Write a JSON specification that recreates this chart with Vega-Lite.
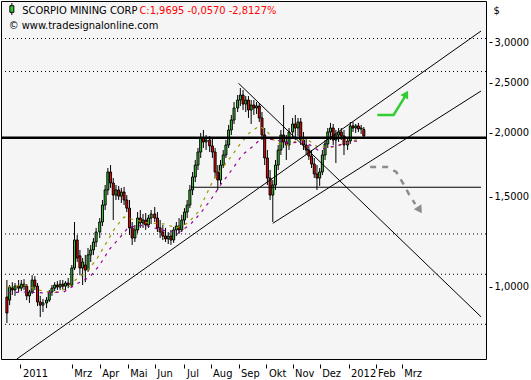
{
"$schema": "https://vega.github.io/schema/vega-lite/v6.json",
"width": 485, "height": 358,
"autosize": {"type": "none"},
"padding": {"left": 1, "top": 1, "right": 45, "bottom": 21},
"background": "white",
"config": {
  "view": {"stroke": "black", "strokeWidth": 1, "fill": "#f5f5f5"},
  "font": "DejaVu Sans Condensed",
  "axis": {"labelFont": "DejaVu Sans Condensed", "labelFontSize": 11, "labelColor": "black", "tickColor": "black", "grid": false, "domain": false}
},
"datasets": {
  "candles": [
{"d":"2010-12-19","o":0.955,"h":1.031,"l":0.850,"c":0.889},
{"d":"2010-12-22","o":0.942,"h":1.008,"l":0.921,"c":0.999},
{"d":"2010-12-25","o":0.994,"h":1.021,"l":0.964,"c":0.986},
{"d":"2010-12-28","o":0.986,"h":1.017,"l":0.960,"c":1.003},
{"d":"2011-01-01","o":1.003,"h":1.031,"l":0.977,"c":0.994},
{"d":"2011-01-04","o":0.994,"h":1.031,"l":0.981,"c":1.012},
{"d":"2011-01-07","o":1.012,"h":1.035,"l":0.986,"c":1.003},
{"d":"2011-01-10","o":1.003,"h":1.012,"l":0.942,"c":0.960},
{"d":"2011-01-13","o":0.960,"h":0.986,"l":0.930,"c":0.977},
{"d":"2011-01-16","o":0.977,"h":1.054,"l":0.968,"c":1.031},
{"d":"2011-01-19","o":1.031,"h":1.049,"l":0.986,"c":1.003},
{"d":"2011-01-22","o":1.003,"h":1.017,"l":0.917,"c":0.934},
{"d":"2011-01-25","o":0.934,"h":0.960,"l":0.873,"c":0.921},
{"d":"2011-01-28","o":0.921,"h":0.947,"l":0.893,"c":0.930},
{"d":"2011-02-01","o":0.930,"h":0.955,"l":0.909,"c":0.942},
{"d":"2011-02-04","o":0.942,"h":0.986,"l":0.934,"c":0.977},
{"d":"2011-02-07","o":0.977,"h":1.008,"l":0.960,"c":0.994},
{"d":"2011-02-10","o":0.994,"h":1.021,"l":0.981,"c":1.008},
{"d":"2011-02-13","o":1.008,"h":1.026,"l":0.986,"c":0.999},
{"d":"2011-02-16","o":0.999,"h":1.031,"l":0.986,"c":1.012},
{"d":"2011-02-19","o":1.012,"h":1.031,"l":0.990,"c":1.003},
{"d":"2011-02-22","o":1.003,"h":1.026,"l":0.986,"c":1.017},
{"d":"2011-02-25","o":1.017,"h":1.040,"l":0.994,"c":1.008},
{"d":"2011-03-01","o":1.008,"h":1.103,"l":0.999,"c":1.088},
{"d":"2011-03-04","o":1.088,"h":1.338,"l":1.078,"c":1.234},
{"d":"2011-03-07","o":1.234,"h":1.262,"l":1.118,"c":1.138},
{"d":"2011-03-10","o":1.149,"h":1.180,"l":1.054,"c":1.088},
{"d":"2011-03-13","o":1.088,"h":1.138,"l":1.008,"c":1.118},
{"d":"2011-03-16","o":1.103,"h":1.154,"l":1.021,"c":1.078},
{"d":"2011-03-19","o":1.078,"h":1.191,"l":1.069,"c":1.154},
{"d":"2011-03-22","o":1.154,"h":1.207,"l":1.118,"c":1.180},
{"d":"2011-03-25","o":1.180,"h":1.245,"l":1.154,"c":1.223},
{"d":"2011-03-28","o":1.223,"h":1.303,"l":1.196,"c":1.279},
{"d":"2011-04-01","o":1.279,"h":1.362,"l":1.245,"c":1.338},
{"d":"2011-04-04","o":1.338,"h":1.477,"l":1.314,"c":1.444},
{"d":"2011-04-07","o":1.444,"h":1.580,"l":1.412,"c":1.545},
{"d":"2011-04-10","o":1.545,"h":1.705,"l":1.510,"c":1.675},
{"d":"2011-04-13","o":1.675,"h":1.728,"l":1.559,"c":1.594},
{"d":"2011-04-16","o":1.594,"h":1.630,"l":1.350,"c":1.510},
{"d":"2011-04-19","o":1.510,"h":1.580,"l":1.477,"c":1.545},
{"d":"2011-04-22","o":1.545,"h":1.573,"l":1.477,"c":1.503},
{"d":"2011-04-25","o":1.503,"h":1.559,"l":1.457,"c":1.531},
{"d":"2011-04-28","o":1.531,"h":1.566,"l":1.444,"c":1.477},
{"d":"2011-05-01","o":1.477,"h":1.510,"l":1.399,"c":1.424},
{"d":"2011-05-04","o":1.424,"h":1.477,"l":1.262,"c":1.303},
{"d":"2011-05-07","o":1.303,"h":1.338,"l":1.207,"c":1.245},
{"d":"2011-05-10","o":1.245,"h":1.320,"l":1.223,"c":1.291},
{"d":"2011-05-13","o":1.291,"h":1.399,"l":1.274,"c":1.362},
{"d":"2011-05-16","o":1.362,"h":1.412,"l":1.303,"c":1.332},
{"d":"2011-05-19","o":1.332,"h":1.387,"l":1.303,"c":1.350},
{"d":"2011-05-22","o":1.350,"h":1.393,"l":1.291,"c":1.320},
{"d":"2011-05-25","o":1.320,"h":1.381,"l":1.303,"c":1.362},
{"d":"2011-05-28","o":1.362,"h":1.412,"l":1.326,"c":1.387},
{"d":"2011-06-01","o":1.387,"h":1.431,"l":1.338,"c":1.362},
{"d":"2011-06-04","o":1.362,"h":1.399,"l":1.279,"c":1.303},
{"d":"2011-06-07","o":1.303,"h":1.350,"l":1.245,"c":1.279},
{"d":"2011-06-10","o":1.279,"h":1.320,"l":1.234,"c":1.256},
{"d":"2011-06-13","o":1.256,"h":1.303,"l":1.223,"c":1.240},
{"d":"2011-06-16","o":1.240,"h":1.279,"l":1.212,"c":1.256},
{"d":"2011-06-19","o":1.256,"h":1.291,"l":1.207,"c":1.234},
{"d":"2011-06-22","o":1.234,"h":1.308,"l":1.218,"c":1.291},
{"d":"2011-06-25","o":1.291,"h":1.338,"l":1.256,"c":1.314},
{"d":"2011-06-28","o":1.314,"h":1.362,"l":1.268,"c":1.291},
{"d":"2011-07-01","o":1.291,"h":1.381,"l":1.279,"c":1.350},
{"d":"2011-07-04","o":1.350,"h":1.424,"l":1.320,"c":1.399},
{"d":"2011-07-07","o":1.399,"h":1.477,"l":1.362,"c":1.444},
{"d":"2011-07-10","o":1.444,"h":1.580,"l":1.424,"c":1.545},
{"d":"2011-07-13","o":1.545,"h":1.675,"l":1.510,"c":1.638},
{"d":"2011-07-16","o":1.638,"h":1.768,"l":1.601,"c":1.728},
{"d":"2011-07-19","o":1.728,"h":1.866,"l":1.690,"c":1.832},
{"d":"2011-07-22","o":1.832,"h":1.996,"l":1.784,"c":1.952},
{"d":"2011-07-25","o":1.952,"h":2.023,"l":1.866,"c":1.917},
{"d":"2011-07-28","o":1.917,"h":1.978,"l":1.849,"c":1.934},
{"d":"2011-08-01","o":1.934,"h":1.969,"l":1.832,"c":1.883},
{"d":"2011-08-04","o":1.883,"h":1.952,"l":1.784,"c":1.832},
{"d":"2011-08-07","o":1.832,"h":1.866,"l":1.630,"c":1.675},
{"d":"2011-08-10","o":1.675,"h":1.728,"l":1.545,"c":1.616},
{"d":"2011-08-13","o":1.616,"h":1.768,"l":1.587,"c":1.728},
{"d":"2011-08-16","o":1.728,"h":1.849,"l":1.705,"c":1.808},
{"d":"2011-08-19","o":1.808,"h":1.934,"l":1.784,"c":1.891},
{"d":"2011-08-22","o":1.891,"h":2.069,"l":1.866,"c":2.023},
{"d":"2011-08-25","o":2.023,"h":2.164,"l":1.978,"c":2.116},
{"d":"2011-08-28","o":2.116,"h":2.294,"l":2.078,"c":2.233},
{"d":"2011-09-01","o":2.233,"h":2.367,"l":2.193,"c":2.314},
{"d":"2011-09-04","o":2.314,"h":2.443,"l":2.253,"c":2.367},
{"d":"2011-09-07","o":2.367,"h":2.421,"l":2.213,"c":2.273},
{"d":"2011-09-10","o":2.273,"h":2.356,"l":2.193,"c":2.314},
{"d":"2011-09-13","o":2.314,"h":2.356,"l":2.135,"c":2.213},
{"d":"2011-09-16","o":2.213,"h":2.314,"l":2.078,"c":2.263},
{"d":"2011-09-19","o":2.263,"h":2.314,"l":2.164,"c":2.233},
{"d":"2011-09-22","o":2.233,"h":2.294,"l":2.174,"c":2.253},
{"d":"2011-09-25","o":2.253,"h":2.283,"l":2.097,"c":2.135},
{"d":"2011-09-28","o":2.135,"h":2.193,"l":1.934,"c":1.978},
{"d":"2011-10-01","o":1.978,"h":2.041,"l":1.728,"c":1.784},
{"d":"2011-10-04","o":1.784,"h":1.849,"l":1.580,"c":1.630},
{"d":"2011-10-07","o":1.630,"h":1.690,"l":1.477,"c":1.510},
{"d":"2011-10-10","o":1.510,"h":1.616,"l":1.338,"c":1.580},
{"d":"2011-10-13","o":1.580,"h":1.768,"l":1.545,"c":1.728},
{"d":"2011-10-16","o":1.728,"h":1.891,"l":1.690,"c":1.849},
{"d":"2011-10-19","o":1.849,"h":2.023,"l":1.808,"c":1.978},
{"d":"2011-10-22","o":1.978,"h":2.263,"l":1.866,"c":1.917},
{"d":"2011-10-25","o":1.917,"h":1.978,"l":1.768,"c":1.891},
{"d":"2011-10-28","o":1.891,"h":2.041,"l":1.849,"c":2.005},
{"d":"2011-11-01","o":2.005,"h":2.135,"l":1.952,"c":2.078},
{"d":"2011-11-04","o":2.078,"h":2.164,"l":1.934,"c":2.041},
{"d":"2011-11-07","o":2.041,"h":2.135,"l":1.969,"c":2.097},
{"d":"2011-11-10","o":2.097,"h":2.135,"l":1.891,"c":1.934},
{"d":"2011-11-13","o":1.934,"h":2.005,"l":1.849,"c":1.891},
{"d":"2011-11-16","o":1.891,"h":1.952,"l":1.808,"c":1.849},
{"d":"2011-11-19","o":1.849,"h":1.891,"l":1.768,"c":1.800},
{"d":"2011-11-22","o":1.800,"h":1.849,"l":1.705,"c":1.736},
{"d":"2011-11-25","o":1.736,"h":1.784,"l":1.630,"c":1.660},
{"d":"2011-11-28","o":1.660,"h":1.728,"l":1.545,"c":1.630},
{"d":"2011-12-01","o":1.630,"h":1.705,"l":1.573,"c":1.675},
{"d":"2011-12-04","o":1.675,"h":1.849,"l":1.652,"c":1.808},
{"d":"2011-12-07","o":1.808,"h":1.934,"l":1.768,"c":1.900},
{"d":"2011-12-10","o":1.900,"h":2.041,"l":1.866,"c":2.005},
{"d":"2011-12-13","o":2.005,"h":2.088,"l":1.934,"c":2.041},
{"d":"2011-12-16","o":2.041,"h":2.078,"l":1.891,"c":1.934},
{"d":"2011-12-19","o":1.934,"h":2.023,"l":1.744,"c":1.978},
{"d":"2011-12-22","o":1.978,"h":2.041,"l":1.917,"c":2.005},
{"d":"2011-12-25","o":2.005,"h":2.041,"l":1.934,"c":1.969},
{"d":"2011-12-28","o":1.969,"h":2.023,"l":1.808,"c":1.891},
{"d":"2012-01-01","o":1.891,"h":1.952,"l":1.849,"c":1.925},
{"d":"2012-01-04","o":1.925,"h":2.097,"l":1.900,"c":2.060},
{"d":"2012-01-07","o":2.060,"h":2.097,"l":2.005,"c":2.041},
{"d":"2012-01-10","o":2.041,"h":2.078,"l":1.996,"c":2.060},
{"d":"2012-01-13","o":2.060,"h":2.088,"l":2.005,"c":2.032},
{"d":"2012-01-16","o":2.032,"h":2.069,"l":1.987,"c":2.041},
{"d":"2012-01-19","o":2.0265,"h":2.05,"l":1.96,"c":1.9695}
  ],
  "ma": [
{"s":"fast","d":"2010-12-20","v":0.999},{"s":"fast","d":"2011-01-07","v":1.008},{"s":"fast","d":"2011-01-23","v":0.986},{"s":"fast","d":"2011-02-09","v":0.973},{"s":"fast","d":"2011-02-25","v":0.994},{"s":"fast","d":"2011-03-05","v":1.031},{"s":"fast","d":"2011-03-17","v":1.069},{"s":"fast","d":"2011-03-28","v":1.128},{"s":"fast","d":"2011-04-07","v":1.207},{"s":"fast","d":"2011-04-18","v":1.303},{"s":"fast","d":"2011-04-28","v":1.368},{"s":"fast","d":"2011-05-10","v":1.350},{"s":"fast","d":"2011-05-25","v":1.332},{"s":"fast","d":"2011-06-12","v":1.326},{"s":"fast","d":"2011-06-25","v":1.303},{"s":"fast","d":"2011-07-08","v":1.332},{"s":"fast","d":"2011-07-19","v":1.399},{"s":"fast","d":"2011-07-28","v":1.510},{"s":"fast","d":"2011-08-05","v":1.616},{"s":"fast","d":"2011-08-15","v":1.705},{"s":"fast","d":"2011-08-26","v":1.808},{"s":"fast","d":"2011-09-03","v":1.891},{"s":"fast","d":"2011-09-14","v":1.996},{"s":"fast","d":"2011-09-25","v":2.060},{"s":"fast","d":"2011-10-04","v":2.005},{"s":"fast","d":"2011-10-14","v":1.908},{"s":"fast","d":"2011-10-27","v":1.891},{"s":"fast","d":"2011-11-07","v":1.934},{"s":"fast","d":"2011-11-18","v":1.934},{"s":"fast","d":"2011-11-29","v":1.874},{"s":"fast","d":"2011-12-17","v":1.874},{"s":"fast","d":"2012-01-04","v":1.917},{"s":"fast","d":"2012-01-16","v":1.952},
{"s":"slow","d":"2010-12-20","v":0.973},{"s":"slow","d":"2011-01-07","v":0.977},{"s":"slow","d":"2011-01-29","v":0.973},{"s":"slow","d":"2011-02-20","v":0.977},{"s":"slow","d":"2011-03-06","v":1.012},{"s":"slow","d":"2011-03-21","v":1.045},{"s":"slow","d":"2011-04-01","v":1.103},{"s":"slow","d":"2011-04-12","v":1.185},{"s":"slow","d":"2011-04-23","v":1.245},{"s":"slow","d":"2011-05-03","v":1.308},{"s":"slow","d":"2011-05-21","v":1.320},{"s":"slow","d":"2011-06-08","v":1.291},{"s":"slow","d":"2011-06-27","v":1.274},{"s":"slow","d":"2011-07-11","v":1.326},{"s":"slow","d":"2011-07-22","v":1.393},{"s":"slow","d":"2011-08-02","v":1.477},{"s":"slow","d":"2011-08-13","v":1.580},{"s":"slow","d":"2011-08-27","v":1.705},{"s":"slow","d":"2011-09-06","v":1.808},{"s":"slow","d":"2011-09-17","v":1.874},{"s":"slow","d":"2011-09-28","v":1.952},{"s":"slow","d":"2011-10-13","v":1.934},{"s":"slow","d":"2011-10-27","v":1.908},{"s":"slow","d":"2011-11-15","v":1.917},{"s":"slow","d":"2011-11-29","v":1.849},{"s":"slow","d":"2011-12-13","v":1.874},{"s":"slow","d":"2012-01-01","v":1.908},{"s":"slow","d":"2012-01-16","v":1.934}
  ],
  "trend": [
{"id":"A","d":"2010-12-30","v":0.723},{"id":"A","d":"2012-05-28","v":3.155},
{"id":"B","d":"2011-10-10","v":1.330},{"id":"B","d":"2012-05-28","v":2.410},
{"id":"C","d":"2011-09-02","v":2.495},{"id":"C","d":"2012-05-28","v":0.874}
  ],
  "dotted": [{"v":3.051},{"v":2.631},{"v":1.268},{"v":1.058},{"v":0.845}],
  "thick": [{"v":1.954}],
  "thin": [{"d":"2011-07-11","d2":"2012-05-28","v":1.564}],
  "green": [{"d":"2012-02-03","v":2.164},{"d":"2012-02-21","v":2.164},{"d":"2012-03-05","v":2.356}],
  "greenhead": [{"d":"2012-03-06","v":2.378}],
  "gray": [{"d":"2012-01-26","v":1.713},{"d":"2012-02-14","v":1.713},{"d":"2012-02-24","v":1.675},{"d":"2012-03-03","v":1.587},{"d":"2012-03-09","v":1.517},{"d":"2012-03-16","v":1.450}],
  "grayhead": [{"d":"2012-03-21","v":1.412}]
},
"layer": [
  {
    "data": {"name": "dotted"},
    "mark": {"type": "rule", "color": "black", "strokeWidth": 1, "strokeDash": [1, 3]},
    "encoding": {
      "y": {"field": "v", "type": "quantitative",
        "scale": {"type": "log", "domain": [0.723, 3.611], "nice": false, "zero": false},
        "axis": {"orient": "right", "values": [1, 1.5, 2, 2.5, 3], "tickCount": 10, "offset": 3, "tickSize": 3, "labelPadding": 2,
          "labelExpr": "replace(format(datum.value, '.4f'), '.', ',')",
          "title": "$", "titleAngle": 0, "titleAlign": "left", "titleBaseline": "middle", "titleX": 4, "titleY": 9,
          "titleFontSize": 11, "titleFontWeight": "normal", "titleFont": "DejaVu Sans Condensed", "titleColor": "black"}}
    }
  },
  {
    "data": {"name": "candles"},
    "mark": {"type": "rule", "color": "black", "strokeWidth": 1},
    "encoding": {
      "x": {"field": "d", "type": "temporal",
        "scale": {"type": "utc", "domain": [{"year": 2010, "month": 12, "date": 18, "utc": true}, {"year": 2012, "month": 5, "date": 28, "utc": true}]},
        "axis": {"orient": "bottom", "offset": 5, "tickSize": 4, "tickCount": 40, "labelPadding": 8, "labelBaseline": "alphabetic", "labelAlign": "left", "labelOffset": 2, "labelOverlap": false, "labelFlush": false, "title": null,
          "values": [
            {"year": 2011, "month": 1, "date": 3, "utc": true},
            {"year": 2011, "month": 3, "date": 1, "utc": true},
            {"year": 2011, "month": 4, "date": 1, "utc": true},
            {"year": 2011, "month": 5, "date": 2, "utc": true},
            {"year": 2011, "month": 6, "date": 1, "utc": true},
            {"year": 2011, "month": 7, "date": 4, "utc": true},
            {"year": 2011, "month": 8, "date": 2, "utc": true},
            {"year": 2011, "month": 9, "date": 2, "utc": true},
            {"year": 2011, "month": 10, "date": 3, "utc": true},
            {"year": 2011, "month": 11, "date": 1, "utc": true},
            {"year": 2011, "month": 12, "date": 1, "utc": true},
            {"year": 2012, "month": 1, "date": 2, "utc": true},
            {"year": 2012, "month": 2, "date": 1, "utc": true},
            {"year": 2012, "month": 3, "date": 1, "utc": true}
          ],
          "labelExpr": "utcmonth(datum.value) == 0 ? utcFormat(datum.value, '%Y') : ['Jan','Feb','Mrz','Apr','Mai','Jun','Jul','Aug','Sep','Okt','Nov','Dez'][utcmonth(datum.value)]"}},
      "y": {"field": "l", "type": "quantitative"},
      "y2": {"field": "h"}
    }
  },
  {
    "data": {"name": "candles"},
    "mark": {"type": "bar", "width": 2, "stroke": "black", "strokeWidth": 1},
    "encoding": {
      "x": {"field": "d", "type": "temporal"},
      "y": {"field": "o", "type": "quantitative"},
      "y2": {"field": "c"},
      "fill": {"condition": {"test": "datum.c > datum.o", "value": "#33cc33"}, "value": "#ff0000"}
    }
  },
  {
    "data": {"name": "ma"},
    "mark": {"type": "line", "strokeWidth": 1.2, "strokeDash": [3, 5]},
    "encoding": {
      "x": {"field": "d", "type": "temporal"},
      "y": {"field": "v", "type": "quantitative"},
      "color": {"field": "s", "type": "nominal", "scale": {"domain": ["fast", "slow"], "range": ["#9a9a00", "#990099"]}, "legend": null}
    }
  },
  {
    "data": {"name": "thick"},
    "mark": {"type": "rule", "color": "black", "strokeWidth": 2.5},
    "encoding": {"y": {"field": "v", "type": "quantitative"}}
  },
  {
    "data": {"name": "thin"},
    "mark": {"type": "rule", "color": "black", "strokeWidth": 1.2},
    "encoding": {"x": {"field": "d", "type": "temporal"}, "x2": {"field": "d2"}, "y": {"field": "v", "type": "quantitative"}}
  },
  {
    "data": {"name": "trend"},
    "mark": {"type": "line", "color": "black", "strokeWidth": 1, "clip": true},
    "encoding": {
      "x": {"field": "d", "type": "temporal"},
      "y": {"field": "v", "type": "quantitative"},
      "detail": {"field": "id"}
    }
  },
  {
    "data": {"name": "green"},
    "mark": {"type": "line", "color": "#33cc33", "strokeWidth": 2.5},
    "encoding": {"x": {"field": "d", "type": "temporal"}, "y": {"field": "v", "type": "quantitative"}}
  },
  {
    "data": {"name": "greenhead"},
    "mark": {"type": "point", "shape": "triangle-up", "size": 80, "filled": true, "color": "#33cc33", "opacity": 1, "angle": 30},
    "encoding": {"x": {"field": "d", "type": "temporal"}, "y": {"field": "v", "type": "quantitative"}}
  },
  {
    "data": {"name": "gray"},
    "mark": {"type": "line", "color": "#8c8c8c", "strokeWidth": 2.5, "strokeDash": [6, 6]},
    "encoding": {"x": {"field": "d", "type": "temporal"}, "y": {"field": "v", "type": "quantitative"}}
  },
  {
    "data": {"name": "grayhead"},
    "mark": {"type": "point", "shape": "triangle-up", "size": 80, "filled": true, "color": "#8c8c8c", "opacity": 1, "angle": 147},
    "encoding": {"x": {"field": "d", "type": "temporal"}, "y": {"field": "v", "type": "quantitative"}}
  },
  {
    "data": {"values": [{"label": "SCORPIO MINING CORP"}]},
    "mark": {"type": "text", "align": "left", "baseline": "alphabetic", "fontSize": 11, "font": "DejaVu Sans Condensed", "color": "black"},
    "encoding": {
      "text": {"field": "label"},
      "x": {"datum": {"year": 2011, "month": 1, "date": 5, "utc": true}, "type": "temporal"},
      "y": {"datum": 3.401, "type": "quantitative"}
    }
  },
  {
    "data": {"values": [{"label": "C:1,9695 -0,0570 -2,8127%"}]},
    "mark": {"type": "text", "align": "left", "baseline": "alphabetic", "fontSize": 11, "font": "DejaVu Sans Condensed", "color": "#ff0000"},
    "encoding": {
      "text": {"field": "label"},
      "x": {"datum": {"year": 2011, "month": 5, "date": 15, "utc": true}, "type": "temporal"},
      "y": {"datum": 3.401, "type": "quantitative"}
    }
  },
  {
    "data": {"values": [{"label": "© www.tradesignalonline.com"}]},
    "mark": {"type": "text", "align": "left", "baseline": "alphabetic", "fontSize": 11, "font": "DejaVu Sans Condensed", "color": "black"},
    "encoding": {
      "text": {"field": "label"},
      "x": {"datum": {"year": 2010, "month": 12, "date": 21, "utc": true}, "type": "temporal"},
      "y": {"datum": 3.18, "type": "quantitative"}
    }
  },
  {
    "data": {"values": [{"label": "icon"}]},
    "mark": {"type": "point", "shape": "M-0.33,-0.55L0.33,-0.55L0.33,0.55L-0.33,0.55Z M0,-1L0,-0.55 M0,0.55L0,1", "size": 144, "filled": false, "fill": "#33cc33", "fillOpacity": 1, "stroke": "black", "strokeWidth": 1, "opacity": 1},
    "encoding": {
      "x": {"datum": {"year": 2010, "month": 12, "date": 24, "hours": 12, "utc": true}, "type": "temporal"},
      "y": {"datum": 3.483, "type": "quantitative"}
    }
  }
]
}
